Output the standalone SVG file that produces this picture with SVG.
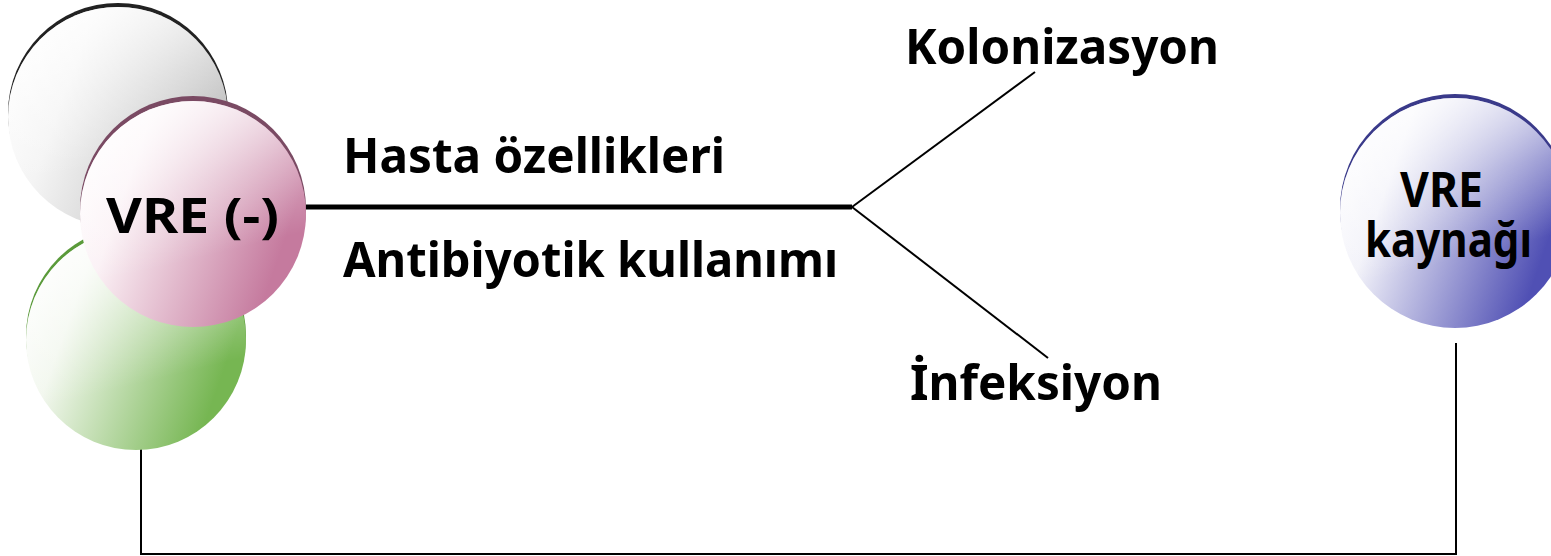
<svg xmlns="http://www.w3.org/2000/svg" width="1551" height="556" viewBox="0 0 1551 556">
<style>
.lbl{font-family:"Noto Sans","DejaVu Sans","Liberation Sans",sans-serif;font-weight:bold;font-size:49px;fill:#000}
.ln{stroke:#000;fill:none;stroke-width:2}
</style>
<defs>
<linearGradient id="gGray" x1="0" y1="0" x2="1" y2="0.35"><stop offset="0" stop-color="#ffffff"/><stop offset="0.35" stop-color="#f4f4f4"/><stop offset="1" stop-color="#bdbdbd"/></linearGradient>
<linearGradient id="gPink" x1="0" y1="0" x2="1" y2="0.35"><stop offset="0" stop-color="#ffffff"/><stop offset="0.3" stop-color="#fbf1f5"/><stop offset="1" stop-color="#c57a9e"/></linearGradient>
<linearGradient id="gGreen" x1="0" y1="0" x2="1" y2="0.35"><stop offset="0" stop-color="#ffffff"/><stop offset="0.3" stop-color="#f2f7ee"/><stop offset="1" stop-color="#76b652"/></linearGradient>
<linearGradient id="gBlue" x1="0" y1="0" x2="1" y2="0.35"><stop offset="0" stop-color="#ffffff"/><stop offset="0.3" stop-color="#f2f2f9"/><stop offset="1" stop-color="#5050b4"/></linearGradient>
<linearGradient id="gHi" x1="0" y1="0" x2="0.25" y2="1"><stop offset="0" stop-color="#ffffff" stop-opacity="0.95"/><stop offset="0.45" stop-color="#ffffff" stop-opacity="0.35"/><stop offset="0.78" stop-color="#ffffff" stop-opacity="0"/></linearGradient>
</defs>
<g id="conn">
<line x1="306" y1="207" x2="852" y2="207" stroke="#000" stroke-width="5"/>
<line class="ln" x1="852" y1="207" x2="1035" y2="72"/>
<line class="ln" x1="852" y1="207" x2="1048" y2="358"/>
<polyline class="ln" points="141,449 141,554 1456,554 1456,343"/>
</g>
<g id="gray">
<circle cx="118" cy="113" r="110" fill="#222"/>
<circle cx="118" cy="117" r="110" fill="url(#gGray)"/>
<circle cx="118" cy="117" r="110" fill="url(#gHi)"/>
</g>
<g id="green">
<circle cx="136" cy="336" r="110" fill="#5a9a3a"/>
<circle cx="136" cy="340" r="110" fill="url(#gGreen)"/>
<circle cx="136" cy="340" r="110" fill="url(#gHi)"/>
</g>
<g id="pink">
<circle cx="193" cy="209" r="113" fill="#7a4a63"/>
<circle cx="193" cy="214" r="113" fill="url(#gPink)"/>
<circle cx="193" cy="214" r="113" fill="url(#gHi)"/>
<text class="lbl" x="106" y="233" textLength="173" lengthAdjust="spacingAndGlyphs">VRE (-)</text>
</g>
<g id="blue">
<circle cx="1455" cy="209" r="115" fill="#3a3a8a"/>
<circle cx="1455" cy="213" r="115" fill="url(#gBlue)"/>
<circle cx="1455" cy="213" r="115" fill="url(#gHi)"/>
<text class="lbl"><tspan x="1400" y="207" textLength="83" lengthAdjust="spacingAndGlyphs">VRE</tspan><tspan x="1365" y="257" textLength="167" lengthAdjust="spacingAndGlyphs">kaynağı</tspan></text>
</g>
<g id="labels">
<text class="lbl" x="343" y="173" textLength="382" lengthAdjust="spacingAndGlyphs">Hasta özellikleri</text>
<text class="lbl" x="343" y="277" textLength="495" lengthAdjust="spacingAndGlyphs">Antibiyotik kullanımı</text>
<text class="lbl" x="905" y="64" textLength="314" lengthAdjust="spacingAndGlyphs">Kolonizasyon</text>
<text class="lbl" x="910" y="400" textLength="252" lengthAdjust="spacingAndGlyphs">İnfeksiyon</text>
</g>
</svg>
